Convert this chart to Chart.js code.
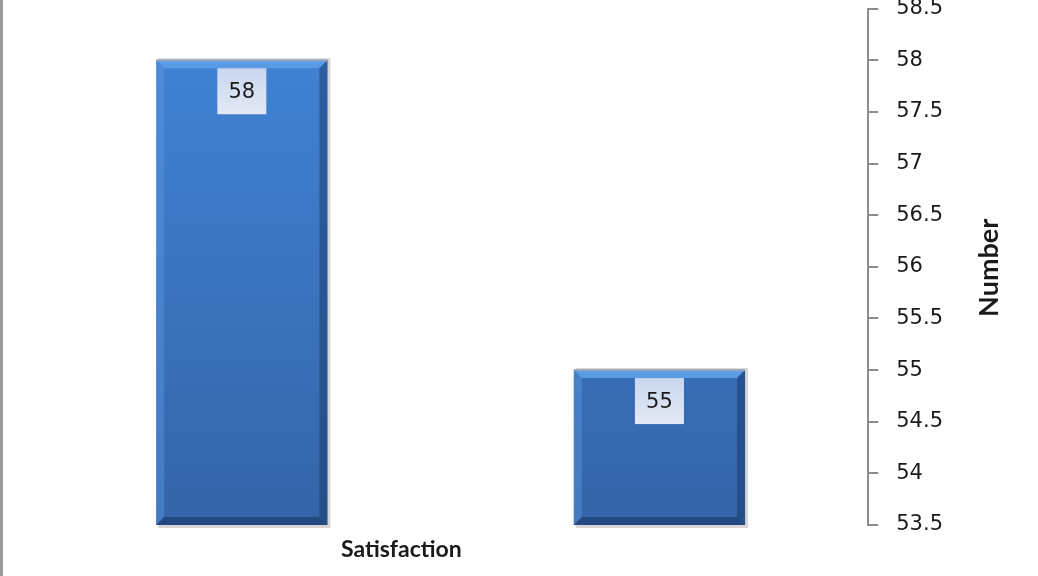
<!DOCTYPE html>
<html>
<head>
<meta charset="utf-8">
<script src="https://cdn.jsdelivr.net/npm/chart.js@4.4.1/dist/chart.umd.min.js"></script>
<style>
html, body { margin: 0; padding: 0; background: #fff; overflow: hidden; }
#wrap { position: relative; width: 1035px; height: 576px; border-left: 3px solid #9a9a9a; overflow: hidden; }
#inner { position: absolute; left: 0; top: -22px; width: 1035px; height: 598px; }
</style>
</head>
<body>
<div id="wrap"><div id="inner"><canvas id="chart"></canvas></div></div>
<script>
const categories = ['Satisfaction'];
const seriesNames = ['Series 1', 'Series 2'];
const seriesValues = [[58], [55]];
const yMin = 53.5;
const yMax = 58.5;
const yStep = 0.5;

/* blue bar fill */
function barFill(context) {
  const chart = context.chart;
  const area = chart.chartArea;
  if (!area) return '#3a75c4';
  const g = chart.ctx.createLinearGradient(0, area.top, 0, area.bottom);
  g.addColorStop(0, '#4185d8');
  g.addColorStop(1, '#3464a8');
  return g;
}

/* bevel edges, shadow and value boxes drawn on top of each bar */
const barExtras = {
  id: 'barExtras',
  beforeDatasetsDraw(chart) {
    const ctx = chart.ctx;
    const area = chart.chartArea;
    ctx.save();
    chart.data.datasets.forEach((ds, i) => {
      chart.getDatasetMeta(i).data.forEach(bar => {
        const l = bar.x - bar.width / 2, r = bar.x + bar.width / 2;
        const bt = Math.min(bar.base, area.bottom);
        ctx.fillStyle = 'rgba(0,0,0,0.16)';
        ctx.fillRect(l + 2, bar.y - 2, r - l + 1, bt - bar.y + 5);
      });
    });
    ctx.restore();
  },
  afterDatasetsDraw(chart) {
    const ctx = chart.ctx;
    const area = chart.chartArea;
    const b = 8;
    ctx.save();
    chart.data.datasets.forEach((ds, i) => {
      chart.getDatasetMeta(i).data.forEach((bar, j) => {
        const l = bar.x - bar.width / 2, r = bar.x + bar.width / 2;
        const t = bar.y, bt = Math.min(bar.base, area.bottom);
        // top bevel
        ctx.fillStyle = '#5a9be6';
        ctx.beginPath();
        ctx.moveTo(l, t); ctx.lineTo(r, t); ctx.lineTo(r - b, t + b); ctx.lineTo(l + b, t + b);
        ctx.closePath(); ctx.fill();
        // left bevel
        ctx.fillStyle = 'rgba(90,150,225,0.45)';
        ctx.beginPath();
        ctx.moveTo(l, t); ctx.lineTo(l + b, t + b); ctx.lineTo(l + b, bt - b); ctx.lineTo(l, bt);
        ctx.closePath(); ctx.fill();
        // right bevel
        ctx.fillStyle = 'rgba(20,50,100,0.45)';
        ctx.beginPath();
        ctx.moveTo(r, t); ctx.lineTo(r - b, t + b); ctx.lineTo(r - b, bt - b); ctx.lineTo(r, bt);
        ctx.closePath(); ctx.fill();
        // bottom bevel
        ctx.fillStyle = 'rgba(20,45,90,0.5)';
        ctx.beginPath();
        ctx.moveTo(l, bt); ctx.lineTo(r, bt); ctx.lineTo(r - b, bt - b); ctx.lineTo(l + b, bt - b);
        ctx.closePath(); ctx.fill();
        // top grey rim
        ctx.fillStyle = '#9aa7b8';
        ctx.fillRect(l, t - 1, r - l, 2);

        // value label box
        const bw = 49, bh = 46, by = t + 8;
        const g = ctx.createLinearGradient(0, by, 0, by + bh);
        g.addColorStop(0, '#c9d7ef');
        g.addColorStop(1, '#e3e9f5');
        ctx.fillStyle = g;
        ctx.fillRect(bar.x - bw / 2, by, bw, bh);
        ctx.fillStyle = '#1a1a1a';
        ctx.font = '21px "DejaVu Sans", sans-serif';
        ctx.textAlign = 'center';
        ctx.textBaseline = 'middle';
        ctx.fillText(String(ds.data[j]), bar.x, by + bh / 2 + 1);
      });
    });
    ctx.restore();
  },
  afterDraw(chart) {
    const ctx = chart.ctx;
    const area = chart.chartArea;
    ctx.save();
    ctx.fillStyle = '#1a1a1a';
    ctx.font = 'bold 23px Lato, "Open Sans", sans-serif';
    ctx.textAlign = 'center';
    ctx.textBaseline = 'middle';
    ctx.fillText(categories[0], area.left + (area.right - area.left) * 0.441, area.bottom + 25);
    // right axis title, reading bottom to top
    ctx.font = 'bold 27px Lato, "Open Sans", sans-serif';
    ctx.translate(986, (area.top + area.bottom) / 2 + 1);
    ctx.rotate(-Math.PI / 2);
    ctx.fillText('Number', 0, 0);
    ctx.restore();
  }
};

new Chart(document.getElementById('chart'), {
  type: 'bar',
  data: {
    labels: categories,
    datasets: seriesValues.map((vals, i) => ({
      label: seriesNames[i],
      data: vals,
      backgroundColor: barFill,
      borderWidth: 0,
      categoryPercentage: 1.0,
      barPercentage: 0.41
    }))
  },
  options: {
    responsive: true,
    maintainAspectRatio: false,
    animation: false,
    layout: { padding: { left: 30, right: 77, top: 0, bottom: 43 } },
    plugins: {
      legend: { display: false },
      tooltip: { enabled: false }
    },
    scales: {
      x: {
        display: true,
        grid: { display: false },
        border: { display: false },
        ticks: { display: false }
      },
      y: {
        position: 'right',
        min: yMin,
        max: yMax,
        ticks: {
          stepSize: yStep,
          padding: 18,
          color: '#1a1a1a',
          font: { family: '"DejaVu Sans", sans-serif', size: 21 },
          callback: v => String(+v.toFixed(1))
        },
        grid: { drawOnChartArea: false, drawTicks: true, tickLength: 10, color: '#8c8c8c', lineWidth: 2 },
        border: { display: true, color: '#8c8c8c', width: 2 }
      }
    }
  },
  plugins: [barExtras]
});
</script>
</body>
</html>
